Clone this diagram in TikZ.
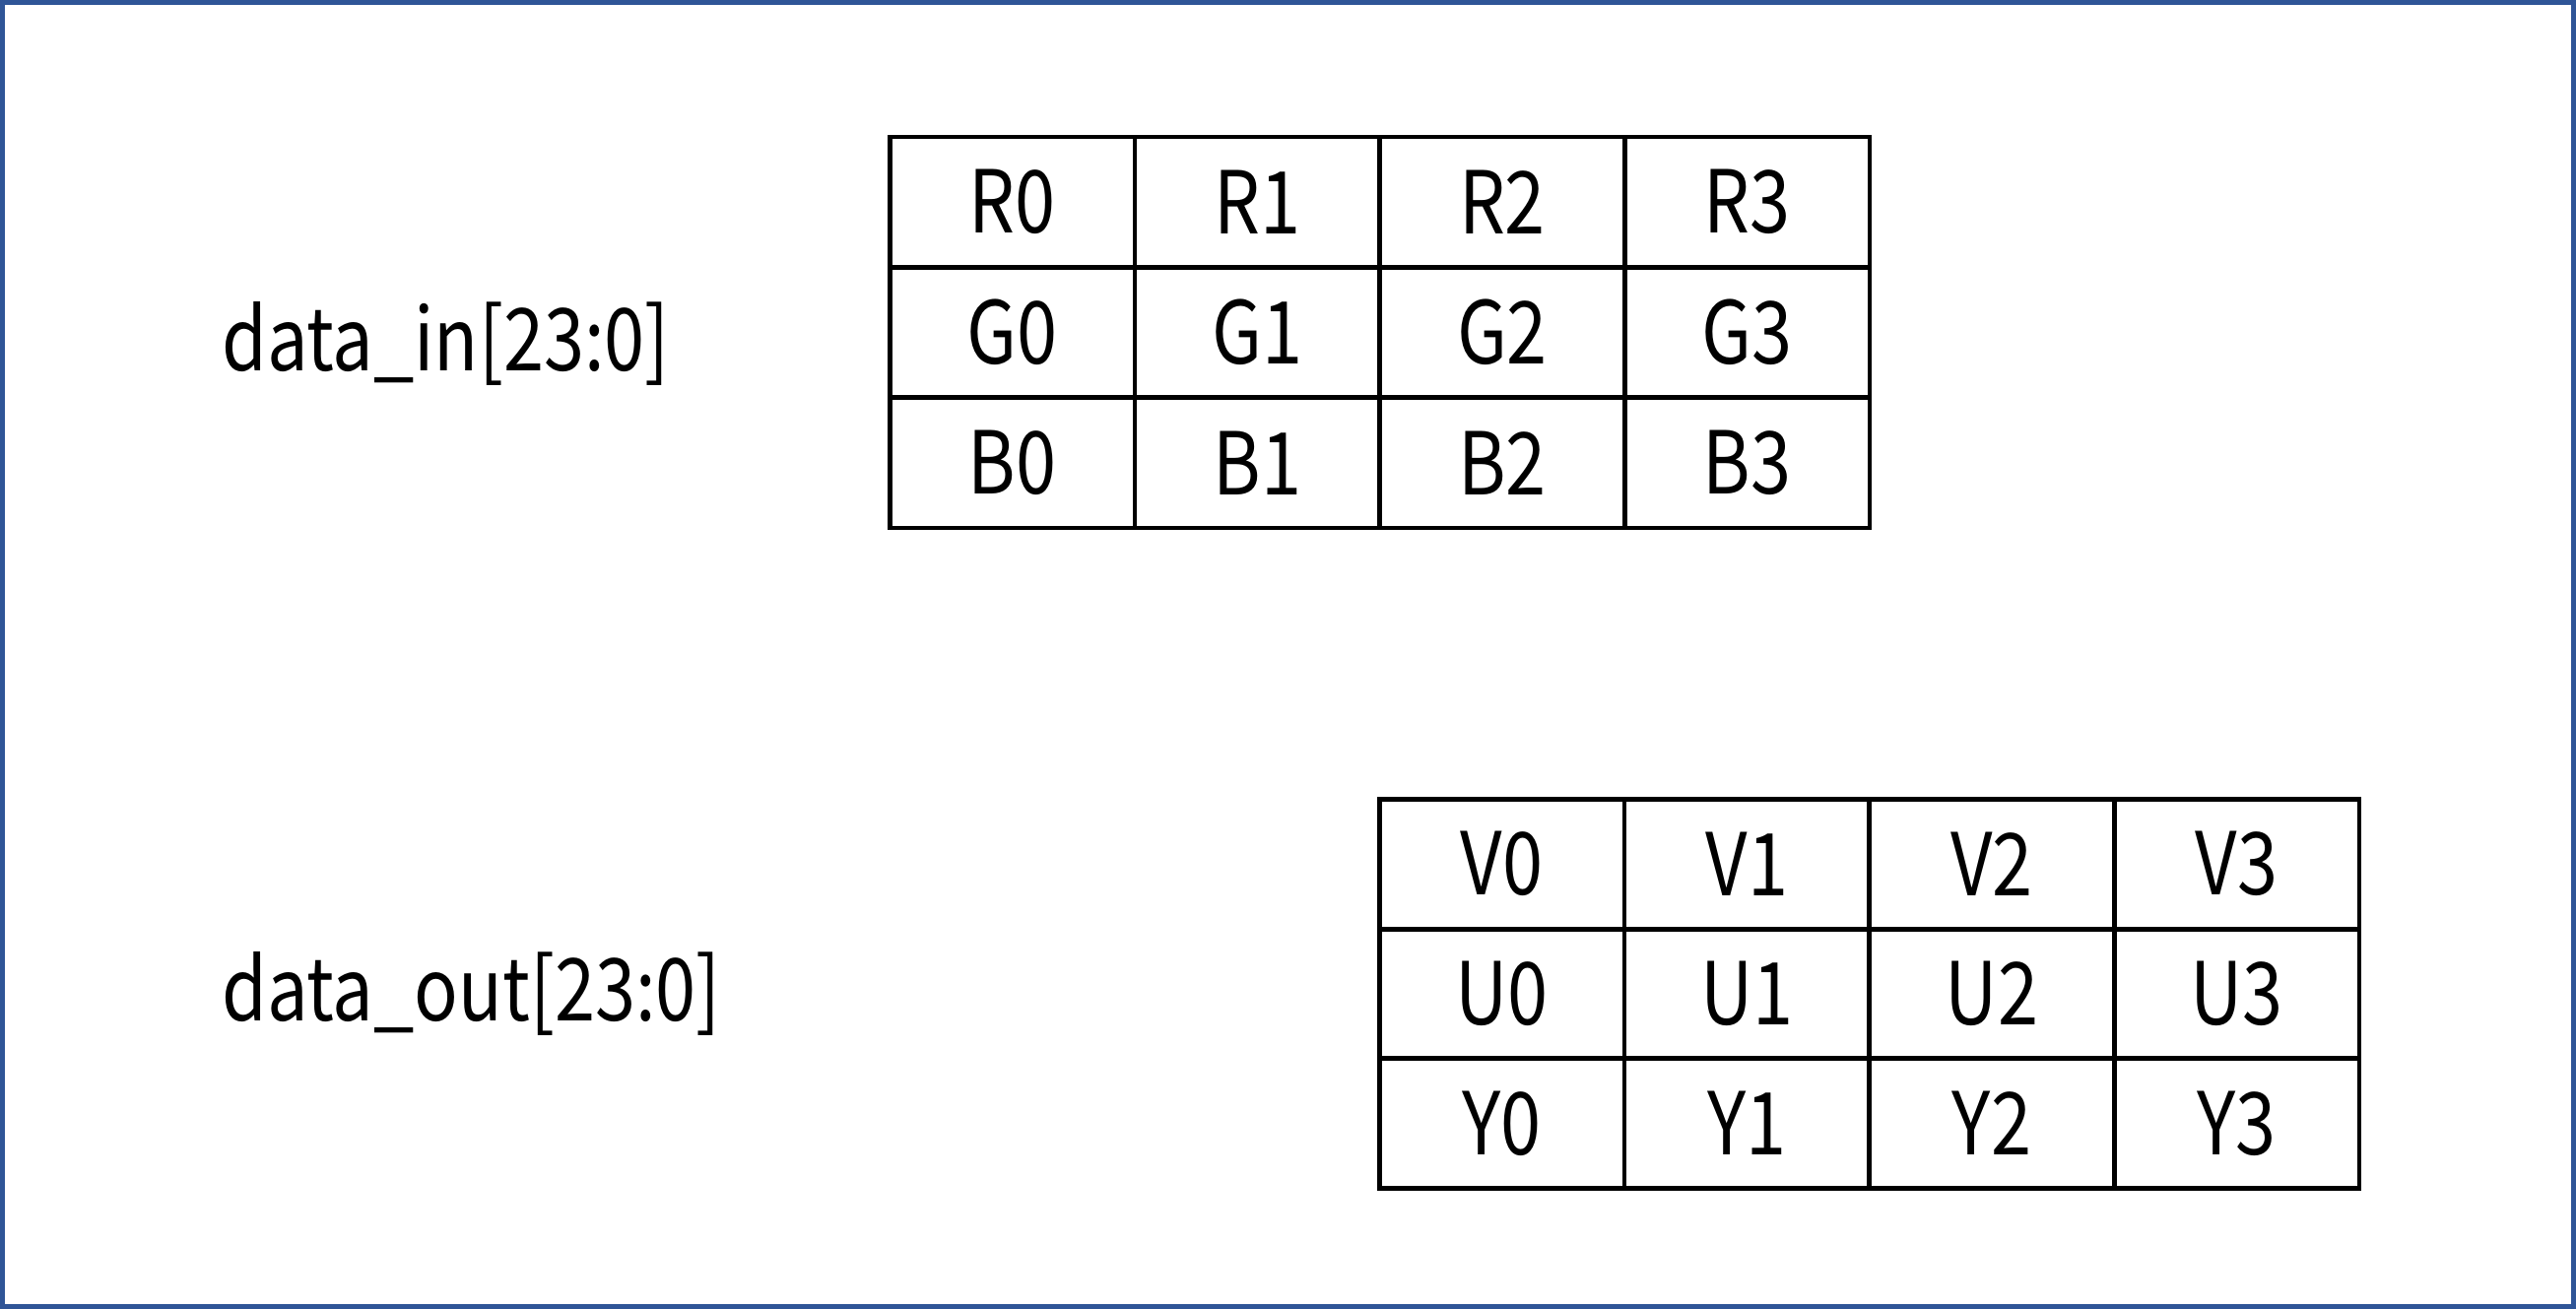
\documentclass[tikz,border=0pt]{standalone}
\usepackage{fontspec}
\setmainfont[FakeStretch=0.84]{Noto Sans CJK SC}
\definecolor{frameblue}{HTML}{2F5597}
\begin{document}
\begin{tikzpicture}[x=1pt,y=-1pt,
  cell/.style={draw=black,line width=4.5pt,minimum width=248.7pt,minimum height=132pt,inner sep=0pt,anchor=north west,font=\fontsize{88}{88}\selectfont},
  lbl/.style={inner sep=0pt,anchor=base west,font=\fontsize{88}{88}\selectfont}]
\useasboundingbox (0,0) rectangle (2615,1329);
\draw[frameblue,line width=5pt] (2.5,2.5) rectangle (2612.5,1326.5);
% labels
\node[lbl] (lin) at (225,377) {data\_in[23:0]};
\node[lbl] (lout) at (225,1036) {data\_out[23:0]};
% top table
\foreach \r/\L in {0/R,1/G,2/B}{
  \foreach \c in {0,1,2,3}{
    \node[cell] (in\L\c) at ({901+248.7*\c},{137+132.3*\r}) {\L\c};
  }
}
% bottom table
\foreach \r/\L in {0/V,1/U,2/Y}{
  \foreach \c in {0,1,2,3}{
    \node[cell] (out\L\c) at ({1398+248.7*\c},{809+131.7*\r}) {\L\c};
  }
}
\end{tikzpicture}
\end{document}
